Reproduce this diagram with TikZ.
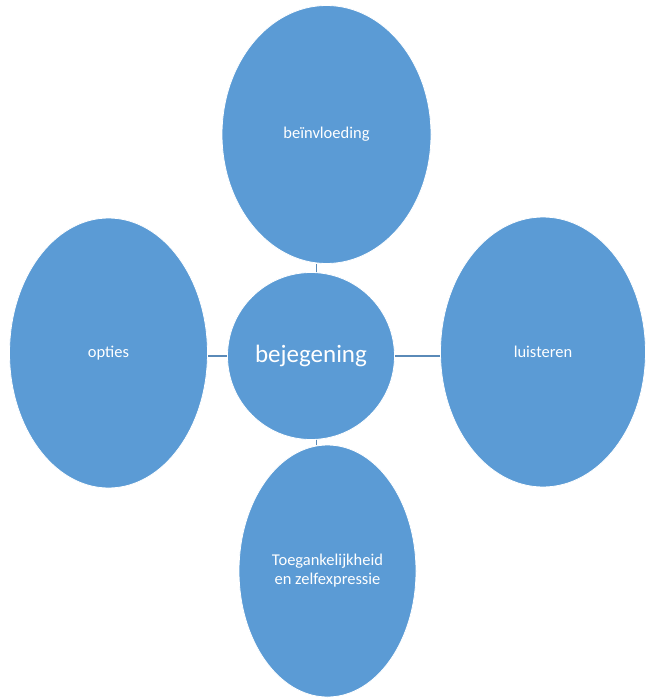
\documentclass[tikz,border=0pt]{standalone}
\usepackage{fontspec}
\setmainfont{Carlito}
\usetikzlibrary{shapes.geometric}
\definecolor{bub}{HTML}{5B9BD5}
\definecolor{lnk}{HTML}{5A8AB8}
\tikzset{
  bubble/.style={ellipse, fill=bub, draw=white, line width=0.8pt, inner sep=0pt, text=white, align=center, font=\fontsize{16.5}{19}\selectfont},
  link/.style={draw=lnk, line width=1.3pt}
}
\begin{document}
\begin{tikzpicture}[x=1pt,y=-1pt]
\useasboundingbox (0,0) rectangle (647,698);
\node[bubble, minimum width=209pt, minimum height=258pt] (top) at (326.5,134.5) {be\"invloeding};
\node[bubble, minimum width=198pt, minimum height=270pt] (left) at (108.5,353) {opties};
\node[bubble, minimum width=205pt, minimum height=270pt] (right) at (543,352) {luisteren};
\node[bubble, minimum width=177pt, minimum height=252pt] (bot) at (327.5,571) {Toegankelijkheid\\en zelfexpressie};
\node[bubble, circle, minimum size=167pt, font=\fontsize{25}{30}\selectfont] (c) at (311,356) {bejegening};
\draw[link] ([xshift=5.5pt]c.north) -- ([xshift=5.5pt]c.north |- top.south);
\draw[link] ([xshift=5.5pt]c.south) -- ([xshift=5.5pt]c.south |- bot.north);
\draw[link] (c.west) -- (c.west -| left.east);
\draw[link] (c.east) -- (c.east -| right.west);
\end{tikzpicture}
\end{document}
